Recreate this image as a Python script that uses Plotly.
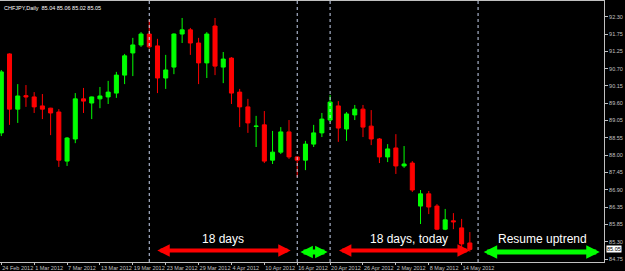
import numpy as np
import plotly.graph_objects as go

# ---------------- data ----------------
symbol_title = "CHFJPY,Daily  85.04 85.06 85.02 85.05"
last_price_label = "85.05"
last_price = 85.05

opens = [88.68, 91.14, 89.42, 89.84, 89.80, 89.52, 89.45, 89.33, 87.80, 88.49,
         89.74, 89.61, 89.74, 89.80, 89.92, 90.48, 91.17, 91.42, 91.76, 91.39,
         90.39, 90.73, 91.76, 91.89, 91.48, 90.86, 92.01, 90.73, 91.01, 89.95,
         89.49, 88.88, 88.93, 87.83, 88.08, 88.71, 87.93, 87.83, 88.33, 88.68,
         89.08, 89.52, 88.80, 89.24, 89.42, 88.89, 88.49, 87.93, 88.21, 87.65,
         87.74, 86.40, 86.78, 86.40, 85.68, 85.94, 85.72, 85.25]
highs = [90.64, 91.16, 90.20, 90.17, 89.95, 89.89, 89.46, 89.42, 88.55, 89.92,
         90.08, 89.81, 90.11, 90.30, 90.58, 91.14, 91.64, 91.82, 92.20, 91.61,
         91.11, 91.78, 92.26, 91.95, 91.64, 91.82, 92.26, 91.20, 91.04, 90.05,
         89.74, 89.21, 89.36, 88.74, 88.86, 89.08, 87.95, 88.43, 88.93, 89.30,
         89.86, 89.67, 89.33, 89.55, 89.55, 89.39, 88.52, 88.33, 88.64, 88.27,
         87.80, 86.90, 86.87, 86.46, 86.31, 86.18, 86.00, 85.59]
lows = [88.58, 88.93, 88.99, 89.49, 89.30, 89.11, 88.61, 87.62, 87.65, 88.36,
        89.30, 89.11, 89.45, 89.58, 89.77, 90.20, 90.45, 91.36, 91.30, 89.92,
        90.05, 90.51, 91.48, 91.11, 90.20, 90.39, 90.48, 90.23, 89.58, 88.86,
        88.68, 88.24, 87.74, 87.71, 88.02, 87.87, 87.30, 87.52, 88.24, 88.55,
        89.02, 88.40, 88.43, 89.08, 88.55, 88.30, 87.74, 87.77, 87.40, 87.59,
        86.84, 85.84, 86.15, 85.65, 85.65, 85.68, 85.12, 84.98]
closes = [90.58, 89.42, 89.83, 89.80, 89.49, 89.42, 89.30, 87.83, 88.52, 89.74,
          89.67, 89.80, 89.83, 89.95, 90.48, 91.08, 91.42, 91.76, 91.36, 90.39,
          90.64, 91.76, 91.89, 91.48, 90.86, 91.76, 90.76, 90.98, 89.92, 89.49,
          88.99, 88.89, 87.80, 88.08, 88.71, 87.93, 87.83, 88.33, 88.68, 89.11,
          89.64, 88.83, 89.27, 89.42, 88.86, 88.49, 87.93, 88.18, 87.65, 87.71,
          86.90, 86.78, 86.37, 85.68, 85.97, 85.91, 85.22, 85.05]

date_tick_labels = ["24 Feb 2012", "1 Mar 2012", "7 Mar 2012", "13 Mar 2012",
                    "19 Mar 2012", "23 Mar 2012", "29 Mar 2012", "4 Apr 2012",
                    "10 Apr 2012", "16 Apr 2012", "20 Apr 2012", "26 Apr 2012",
                    "2 May 2012", "8 May 2012", "14 May 2012"]
date_tick_bars = [0, 4, 8, 12, 16, 20, 24, 28, 32, 36, 40, 44, 48, 52, 56]

price_tick_labels = ["92.30", "91.75", "91.25", "90.70", "90.15", "89.60", "89.05",
                     "88.55", "88.00", "87.45", "86.90", "86.35", "85.85", "85.30", "84.75"]

marker_bars = [18, 36, 40, 58]          # vertical dotted separators (bar index)

arrow_starts = [18.8, 36.2, 40.9, 58.5]
arrow_ends = [35.2, 39.7, 57.0, 72.8]
arrow_labels = ["18 days", "", "18 days, today", "Resume uptrend"]
arrow_label_x = [27.0, 38.0, 49.6, 65.8]

# ---------------- styles ----------------
BULL = "#00ff00"
BEAR = "#ff0000"
AXIS = "#c0c0c0"
arrow_colors = [BEAR, BULL, BEAR, BULL]
arrow_widths = [4, 5, 4, 5]
arrow_sizes = [0.62, 0.5, 0.62, 0.54]
arrow_y = [0.044, 0.038, 0.044, 0.038]

bar_index = list(range(len(opens)))

fig = go.Figure()
fig.add_trace(go.Candlestick(
    x=bar_index, open=opens, high=highs, low=lows, close=closes,
    increasing=dict(line=dict(color=BULL, width=1), fillcolor=BULL),
    decreasing=dict(line=dict(color=BEAR, width=1), fillcolor=BEAR),
    whiskerwidth=0, showlegend=False, hoverinfo="skip",
))

for b in marker_bars:
    fig.add_shape(type="line", xref="x", yref="paper", x0=b, x1=b, y0=0, y1=1,
                  line=dict(color="#c8d4f0", width=1, dash="dot"), layer="above")

annotations = [
    dict(x=0, y=1, xref="paper", yref="paper", xanchor="left", yanchor="top",
         xshift=2, yshift=-2, text=symbol_title, showarrow=False,
         font=dict(family="Liberation Sans", size=5.5, color="#ffffff")),
    dict(x=1, y=last_price, xref="paper", yref="y", xanchor="left", yanchor="middle",
         xshift=2, text=last_price_label, showarrow=False, bgcolor="#ffffff",
         borderpad=0, font=dict(family="Liberation Sans", size=5.5, color="#000000")),
]
for s, e, lab, lx, c, w, sz, yy in zip(arrow_starts, arrow_ends, arrow_labels, arrow_label_x,
                                        arrow_colors, arrow_widths, arrow_sizes, arrow_y):
    annotations.append(dict(
        x=e, y=yy, xref="x", yref="paper", ax=s, ay=0, axref="x", ayref="pixel",
        showarrow=True, arrowhead=2, startarrowhead=2, arrowside="end+start",
        arrowsize=sz, startarrowsize=sz, arrowwidth=w, arrowcolor=c,
        standoff=0, startstandoff=0, text=""))
    if lab:
        annotations.append(dict(
            x=lx, y=0.088, xref="x", yref="paper", xanchor="center", yanchor="middle",
            text=lab, showarrow=False,
            font=dict(family="Liberation Sans", size=12, color="#ffffff")))

fig.update_layout(
    width=625, height=271,
    margin=dict(l=0, r=21, t=1, b=9),
    paper_bgcolor="#000000", plot_bgcolor="#000000",
    showlegend=False,
    annotations=annotations,
    xaxis=dict(
        range=[-0.158, 73.32], rangeslider=dict(visible=False),
        tickmode="array", tickvals=date_tick_bars, ticktext=date_tick_labels,
        tickangle=0,
        ticks="outside", ticklen=2, tickcolor=AXIS, ticklabelposition="outside right",
        tickfont=dict(family="Liberation Sans", size=5.5, color=AXIS),
        showgrid=False, zeroline=False, showline=True, linecolor=AXIS, mirror=True,
    ),
    yaxis=dict(
        range=[84.657, 92.789], side="right",
        tickmode="array",
        tickvals=list(np.linspace(92.30, 84.75, len(price_tick_labels))),
        ticktext=price_tick_labels,
        ticks="outside", ticklen=3, tickcolor=AXIS,
        tickfont=dict(family="Liberation Sans", size=5.5, color=AXIS),
        showgrid=False, zeroline=False, showline=True, linecolor=AXIS, mirror=True,
    ),
)

fig.write_html("out.html")
